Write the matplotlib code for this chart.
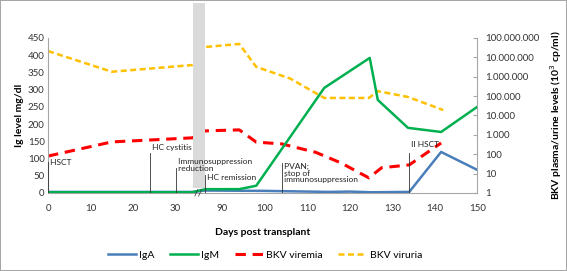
import numpy as np
import matplotlib
matplotlib.use('Agg')
import matplotlib.pyplot as plt
from matplotlib.ticker import FixedLocator, FuncFormatter

plt.rcParams['font.family'] = ['Lato', 'DejaVu Sans']

# data (days post transplant)
iga_days = [0, 34, 86, 100, 115, 120, 125, 134, 141.5, 150]
iga = [3, 3, 7, 6, 3, 4, 2, 3, 119, 67]            # mg/dl

igm_days = [0, 34, 86, 94, 98, 114, 124.7, 126.6, 133.7, 141.5, 150]
igm = [2, 2, 11, 11, 21, 305, 392, 270, 189, 177, 250]  # mg/dl

vir_days = [0, 15, 34, 86, 94, 98, 104, 112, 118, 124.5, 127.5, 134, 141.5]
viremia = [80, 430, 700, 1600, 1800, 420, 340, 125, 35, 6, 20, 28, 380]   # 10^3 cp/ml

uri_days = [0, 15, 34, 86, 94, 98, 106, 114, 124.5, 126.6, 133.7, 142]
viruria = [2.1e7, 1.8e6, 4e6, 3.4e7, 4.9e7, 3.2e6, 8e5, 8e4, 8e4, 1.8e5, 9e4, 1.9e4]

events = ['HSCT', 'HC cystitis', 'Immunosuppression\nreduction', 'HC remission',
          'PVAN;\nstop of\nimmunosuppression', 'II HSCT']
event_days = [0, 24, 30, 86, 104, 134]
event_top = [90, 116, 73, 52, 87, 116]     # top of marker line, mg/dl
event_text_y = [87, 131, 81, 44, 58, 142]

xticks = [0, 10, 20, 30, 90, 100, 110, 120, 130, 140, 150]
gap = (34, 86)

# broken x axis: days 34..86 squeezed into 3 units
_d = [-1000, gap[0], gap[1], 1000]
_p = [-1000, gap[0], gap[0] + 3, 1000 - gap[1] + gap[0] + 3]
def fwd(x):
    return np.interp(x, _d, _p)
def inv(x):
    return np.interp(x, _p, _d)

fig = plt.figure(figsize=(5.67, 2.71), dpi=100, edgecolor='#a6a6a6', linewidth=1.2)
ax = fig.add_axes([0.0847, 0.288, 0.757, 0.572])
ax2 = ax.twinx()
ax.set_zorder(ax2.get_zorder() + 1)
ax.patch.set_visible(False)

ax.set_xscale('function', functions=(fwd, inv))
ax.set_xlim(0, 150)
ax.set_ylim(0, 450)
ax2.set_yscale('log')
ax2.set_ylim(1, 1e8)

c_iga = '#4a7ebb'
c_igm = '#00b050'
c_red = '#ff0000'
c_yel = '#ffc000'

l1, = ax.plot(iga_days, iga, color=c_iga, lw=1.8, label='IgA', zorder=3)
l2, = ax.plot(igm_days, igm, color=c_igm, lw=1.8, label='IgM', zorder=4)
l3, = ax2.plot(vir_days, viremia, color=c_red, lw=2.2, dashes=(3.4, 2.2), label='BKV viremia')
l4, = ax2.plot(uri_days, viruria, color=c_yel, lw=1.8, dashes=(2.4, 1.4), label='BKV viruria')

# gray break band
ax.axvspan(gap[0], gap[1], ymin=0.03, ymax=1.226, color='#dadada', zorder=6, clip_on=False, lw=0)
ax.text(60, 0, '//', ha='center', va='center', fontsize=7.5, color='#333333', zorder=8,
        clip_on=False)

for d, t, top, ty in zip(event_days, events, event_top, event_text_y):
    ax.plot([d, d], [0, top], color='#333333', lw=0.6, zorder=7)
    ax.text(d, ty, ' ' + t.replace('\n', '\n '), fontsize=6, ha='left', va='center',
            color='#222222', zorder=9, linespacing=0.95)

grey = '#a6a6a6'
ax.spines['top'].set_visible(False)
ax2.spines['top'].set_visible(False)
ax.spines['right'].set_visible(False)
ax2.spines['left'].set_visible(False)
ax2.spines['bottom'].set_visible(False)
for s in ['left', 'bottom']:
    ax.spines[s].set_color(grey)
ax2.spines['right'].set_color(grey)

ax.xaxis.set_major_locator(FixedLocator(xticks))
ax.xaxis.set_minor_locator(FixedLocator([]))
ax.set_xticklabels([str(t) for t in xticks])
ax.set_yticks(range(0, 451, 50))
ax.tick_params(axis='x', length=0, pad=8, labelsize=7, labelcolor='#333333')
ax.tick_params(axis='y', length=0, pad=2.5, labelsize=7, labelcolor='#333333')

ax2.yaxis.set_major_locator(FixedLocator([10 ** k for k in range(9)]))
ax2.yaxis.set_minor_locator(FixedLocator([]))
ax2.yaxis.set_major_formatter(FuncFormatter(lambda v, p: f'{int(round(v)):,}'.replace(',', '.')))
ax2.tick_params(axis='y', direction='in', length=3, color=grey, pad=6, labelsize=7,
                labelcolor='#333333')

ax.set_xlabel('Days post transplant', fontsize=7.5, fontweight='bold', labelpad=11)
ax.set_ylabel('Ig level mg/dl', fontsize=7.5, fontweight='bold', labelpad=3)
ax2.set_ylabel('BKV plasma/urine levels (10$^3$ cp/ml)', fontsize=7.5, fontweight='bold',
               labelpad=6)

fig.legend(handles=[l1, l2, l3, l4], loc='center', bbox_to_anchor=(0.467, 0.059), ncol=4,
           frameon=False, fontsize=7.5, handlelength=2.7, handletextpad=0.3,
           columnspacing=1.5)

fig.savefig('out.png', dpi=100, edgecolor=fig.get_edgecolor())
